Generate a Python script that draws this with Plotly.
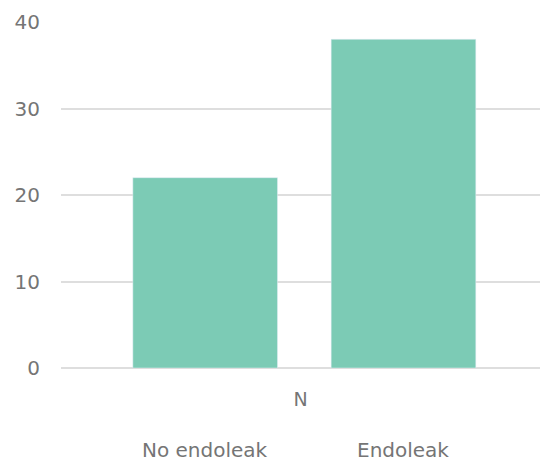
import plotly.graph_objects as go

categories = ["N"]
series_names = ["No endoleak", "Endoleak"]
series_values = [[22], [38]]
y_ticks = [0, 10, 20, 30, 40]

bar_color = "#7ccbb5"
text_color = "#757575"
grid_color = "#dedede"
font_family = "DejaVu Sans"

offsets = [-0.35, 0.064]
width = 0.302

fig = go.Figure()
for name, vals, off in zip(series_names, series_values, offsets):
    fig.add_trace(go.Bar(x=categories, y=vals, name=name, marker_color=bar_color,
                         width=width, offset=off, showlegend=False))

for name, off in zip(series_names, offsets):
    fig.add_annotation(x=off + width / 2, xref="x", y=0, yref="paper", yshift=-82,
                       text=name, showarrow=False, yanchor="middle",
                       font=dict(family=font_family, size=20, color=text_color))

fig.update_layout(
    width=541, height=461,
    margin=dict(l=61, r=1, t=22, b=93),
    plot_bgcolor="white", paper_bgcolor="white",
    barmode="overlay",
    font=dict(family=font_family, size=20, color=text_color),
    xaxis=dict(type="category", range=[-0.5, 0.5], showgrid=False, showline=False,
               ticks="", ticklabelstandoff=18, tickfont=dict(size=19, color=text_color)),
    yaxis=dict(range=[0, 40], tickvals=y_ticks, showgrid=True, gridcolor=grid_color,
               gridwidth=2, zeroline=True, zerolinecolor=grid_color, zerolinewidth=2,
               ticks="", ticklabelstandoff=20, tickfont=dict(size=20, color=text_color)),
)

fig.write_html("out.html")
